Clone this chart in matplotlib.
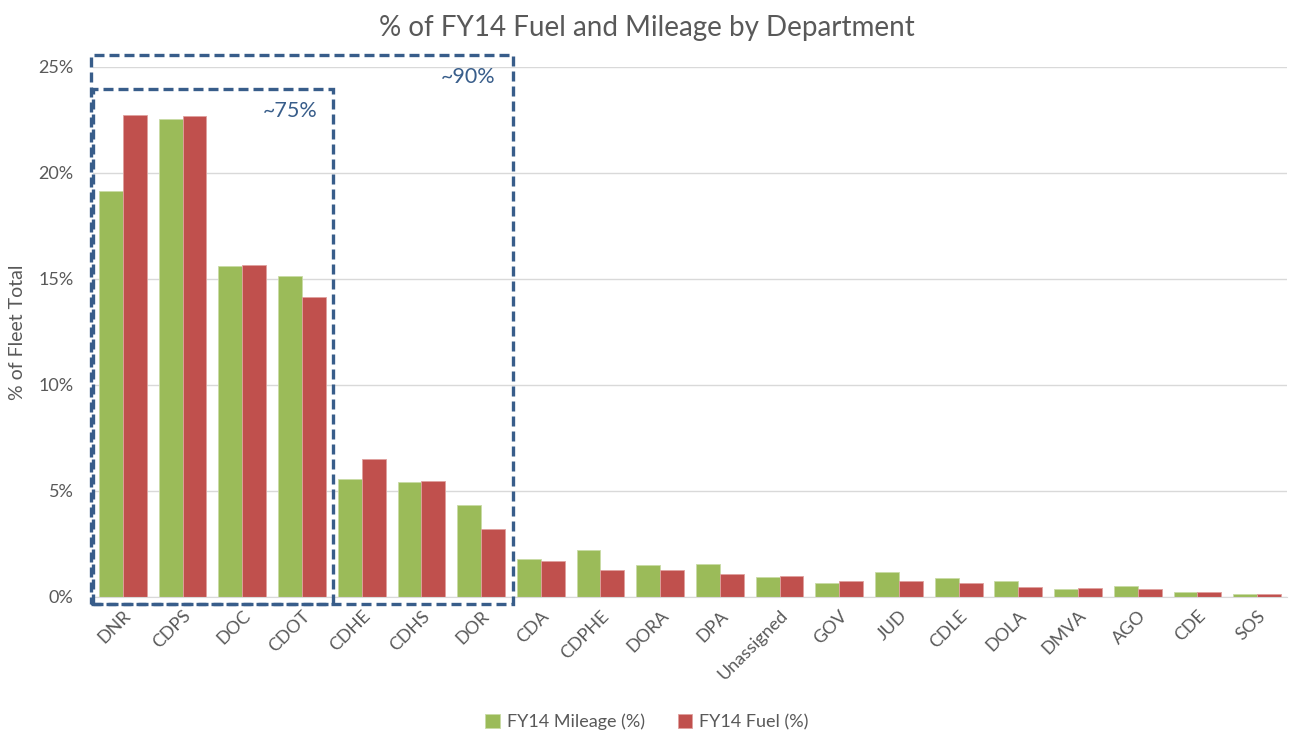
import matplotlib
matplotlib.use("Agg")
import matplotlib.pyplot as plt
import numpy as np
from matplotlib.patches import Rectangle
from matplotlib.ticker import FuncFormatter

departments = ["DNR", "CDPS", "DOC", "CDOT", "CDHE", "CDHS", "DOR", "CDA", "CDPHE",
               "DORA", "DPA", "Unassigned", "GOV", "JUD", "CDLE", "DOLA", "DMVA",
               "AGO", "CDE", "SOS"]
mileage = [19.13, 22.55, 15.60, 15.15, 5.54, 5.39, 4.31, 1.78, 2.18,
           1.47, 1.54, 0.91, 0.66, 1.18, 0.86, 0.71, 0.36, 0.50, 0.20, 0.10]
fuel = [22.75, 22.70, 15.67, 14.13, 6.49, 5.44, 3.20, 1.68, 1.27,
        1.27, 1.08, 0.97, 0.71, 0.71, 0.66, 0.46, 0.42, 0.36, 0.20, 0.10]

GREEN = "#9BBB59"
RED = "#C0504D"
BOX = "#385D8A"
GREY = "#595959"
plt.rcParams["font.family"] = ["Lato", "DejaVu Sans"]

fig = plt.figure(figsize=(12.94, 7.36), dpi=100)
ax = fig.add_axes([0.0719, 0.1895, 0.9227, 0.7195])

x = np.arange(len(departments))
w = 0.40
ax.bar(x - w / 2, mileage, w, color=GREEN, edgecolor="#c9dba6", linewidth=0.6,
       label="FY14 Mileage (%)", zorder=2)
ax.bar(x + w / 2, fuel, w, color=RED, edgecolor="#e0a09e", linewidth=0.6,
       label="FY14 Fuel (%)", zorder=2)

ax.set_xlim(-0.5, len(departments) - 0.5)
ax.set_ylim(0, 25)
ax.set_yticks(np.arange(0, 26, 5))
ax.yaxis.set_major_formatter(FuncFormatter(lambda v, p: f"{v:.0f}%"))
ax.grid(axis="y", color="#D9D9D9", linewidth=1, zorder=0)
for s in ["top", "right", "left"]:
    ax.spines[s].set_visible(False)
ax.spines["bottom"].set_color("#D9D9D9")
ax.tick_params(axis="both", length=0, colors=GREY, labelsize=13)
ax.tick_params(axis="y", pad=14)
ax.set_xticks(x)
ax.set_xticklabels(departments, rotation=45, ha="right", rotation_mode="anchor")
ax.tick_params(axis="x", pad=8)
ax.set_ylabel("% of Fleet Total", color=GREY, fontsize=14, labelpad=9)
# title centred on the figure, not the axes
ax.set_title("% of FY14 Fuel and Mileage by Department", color=GREY, fontsize=20,
             pad=22, x=0.464)

# dashed grouping boxes
outer = Rectangle((-0.54, -0.35), 7.08, 25.9, fill=False, edgecolor=BOX,
                  linestyle=(0, (3, 1.5)), linewidth=2.4, clip_on=False, zorder=3)
inner = Rectangle((-0.5, -0.35), 4.02, 24.29, fill=False, edgecolor=BOX,
                  linestyle=(0, (3, 1.5)), linewidth=2.4, clip_on=False, zorder=3)
ax.add_patch(outer)
ax.add_patch(inner)
ax.text(5.78, 24.55, "~90%", color=BOX, fontsize=15.5, ha="center", va="center")
ax.text(2.8, 22.9, "~75%", color=BOX, fontsize=15.5, ha="center", va="center")

leg = fig.legend(loc="lower center", ncol=2, frameon=False, fontsize=13,
                 bbox_to_anchor=(0.5, -0.014), handlelength=0.8, handleheight=0.8,
                 columnspacing=1.8, handletextpad=0.4)
for t in leg.get_texts():
    t.set_color(GREY)

fig.savefig("out.png", dpi=100)
